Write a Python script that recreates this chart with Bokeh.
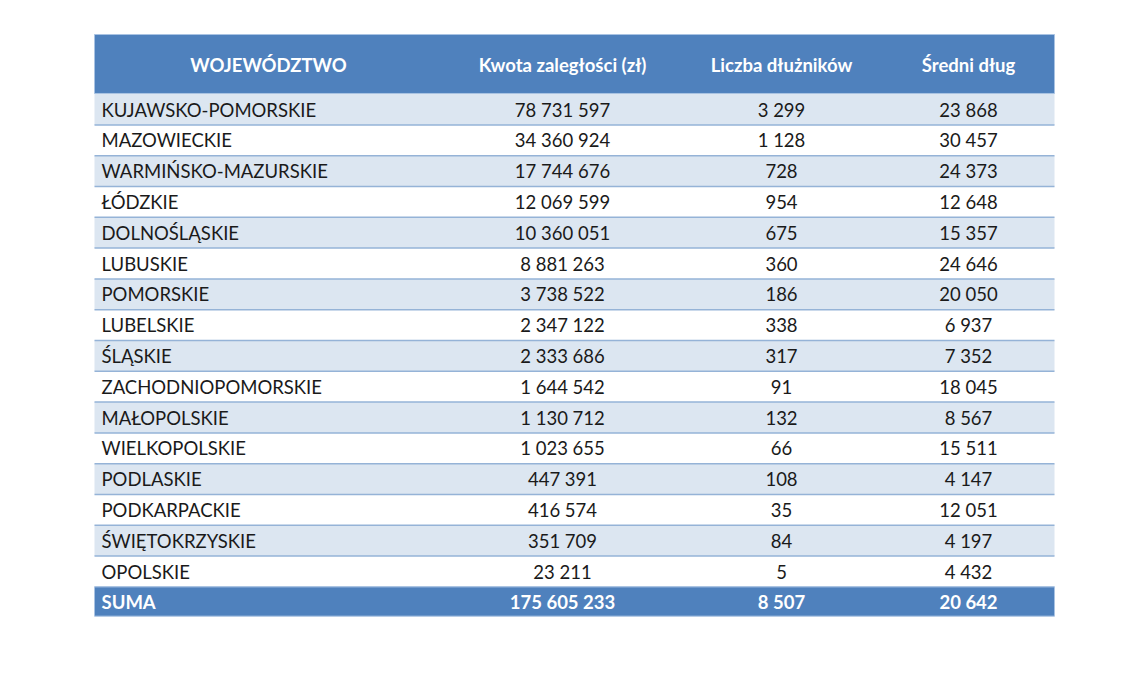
from bokeh.plotting import figure
from bokeh.models import Range1d, ColumnDataSource
from bokeh.core.properties import value
from bokeh.embed import file_html
from bokeh.resources import INLINE

headers = ["WOJEWÓDZTWO", "Kwota zaległości (zł)", "Liczba dłużników", "Średni dług"]
regions = ["KUJAWSKO-POMORSKIE", "MAZOWIECKIE", "WARMIŃSKO-MAZURSKIE", "ŁÓDZKIE",
           "DOLNOŚLĄSKIE", "LUBUSKIE", "POMORSKIE", "LUBELSKIE", "ŚLĄSKIE",
           "ZACHODNIOPOMORSKIE", "MAŁOPOLSKIE", "WIELKOPOLSKIE", "PODLASKIE",
           "PODKARPACKIE", "ŚWIĘTOKRZYSKIE", "OPOLSKIE"]
amount = [78731597, 34360924, 17744676, 12069599, 10360051, 8881263, 3738522,
          2347122, 2333686, 1644542, 1130712, 1023655, 447391, 416574, 351709, 23211]
debtors = [3299, 1128, 728, 954, 675, 360, 186, 338, 317, 91, 132, 66, 108, 35, 84, 5]
avg_debt = [23868, 30457, 24373, 12648, 15357, 24646, 20050, 6937, 7352, 18045,
            8567, 15511, 4147, 12051, 4197, 4432]
total_label = "SUMA"
total_amount = 175605233
total_debtors = 8507
total_avg = 20642


def fmt(v):
    return f"{v:,}".replace(",", " ")


W, H = 1124, 670
PITCH = 30.8
top = -109 / PITCH
bottom = top + H / PITCH

p = figure(width=W, height=H, output_backend="svg", toolbar_location=None,
           x_range=Range1d(0, W), y_range=Range1d(bottom, top),
           min_border=0, outline_line_color=None)
p.axis.visible = False
p.grid.visible = False
p.background_fill_color = "white"
p.border_fill_color = "white"

X0, X1 = 94, 1054
col_x = [268, 562, 781, 968]
name_x = 101
FONT = value("Lato")

n = len(regions)
idx = list(range(n))

# row bands
light = [i for i in idx if i % 2 == 0]
p.quad(left=X0, right=X1, bottom=[i + 0.5 for i in light], top=[i - 0.5 for i in light],
       fill_color="#DCE6F1", line_color=None)
# row separators
p.segment(x0=X0, x1=X1, y0=[i + 0.5 for i in idx], y1=[i + 0.5 for i in idx],
          line_color="#95B3D7", line_width=1.5)

# header band
p.quad(left=X0, right=X1, bottom=-0.52, top=-2.435, fill_color="#4F81BD", line_color="#A9C3E3", line_width=1)
# total band
p.quad(left=X0, right=X1, bottom=n + 0.45, top=n - 0.5, fill_color="#4F81BD", line_color="#A9C3E3", line_width=1)

# header texts
p.text(x=col_x, y=[-1.46] * 4, text=headers, text_color="white", text_font=FONT,
       text_font_style="bold", text_font_size="18.5px", text_align="center", text_baseline="middle")

src = ColumnDataSource(dict(
    y=idx, name=regions,
    a=[fmt(v) for v in amount], d=[fmt(v) for v in debtors], m=[fmt(v) for v in avg_debt]))

common = dict(text_font=FONT, text_font_size="18.5px", text_baseline="middle", text_color="#1a1a1a")
p.text(x=name_x, y="y", text="name", source=src, text_align="left", **common)
p.text(x=col_x[1], y="y", text="a", source=src, text_align="center", **common)
p.text(x=col_x[2], y="y", text="d", source=src, text_align="center", **common)
p.text(x=col_x[3], y="y", text="m", source=src, text_align="center", **common)

tot = dict(text_font=FONT, text_font_size="18.5px", text_baseline="middle", text_color="white",
           text_font_style="bold")
p.text(x=[name_x], y=[n], text=[total_label], text_align="left", **tot)
p.text(x=col_x[1:], y=[n] * 3, text=[fmt(total_amount), fmt(total_debtors), fmt(total_avg)],
       text_align="center", **tot)

open("out.html", "w").write(file_html(p, INLINE))
